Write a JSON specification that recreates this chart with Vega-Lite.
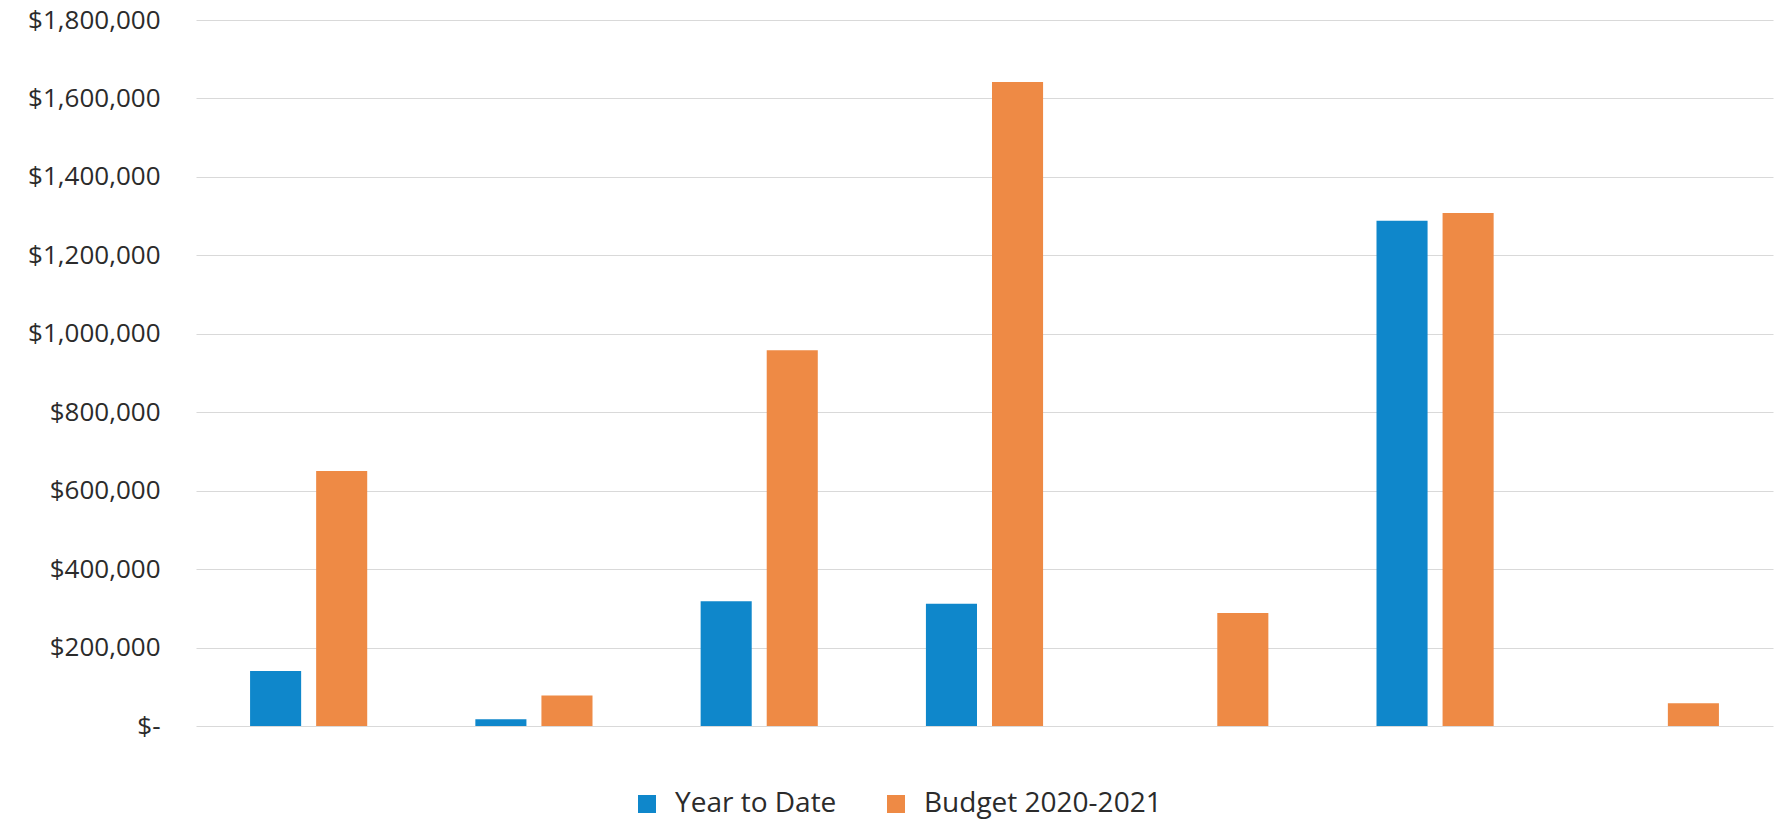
{
  "$schema": "https://vega.github.io/schema/vega-lite/v6.json",
  "width": 1577,
  "height": 706,
  "autosize": {"type": "none"},
  "padding": {"left": 196, "top": 20, "right": 3, "bottom": 94},
  "background": "white",
  "config": {
    "view": {"stroke": null},
    "font": "Open Sans"
  },
  "data": {
    "values": [
      {"cat": "C1", "series": "Year to Date", "amount": 140000},
      {"cat": "C1", "series": "Budget 2020-2021", "amount": 650000},
      {"cat": "C2", "series": "Year to Date", "amount": 17000},
      {"cat": "C2", "series": "Budget 2020-2021", "amount": 78000},
      {"cat": "C3", "series": "Year to Date", "amount": 318000},
      {"cat": "C3", "series": "Budget 2020-2021", "amount": 958000},
      {"cat": "C4", "series": "Year to Date", "amount": 312000},
      {"cat": "C4", "series": "Budget 2020-2021", "amount": 1642000},
      {"cat": "C5", "series": "Budget 2020-2021", "amount": 288000},
      {"cat": "C6", "series": "Year to Date", "amount": 1288000},
      {"cat": "C6", "series": "Budget 2020-2021", "amount": 1308000},
      {"cat": "C7", "series": "Budget 2020-2021", "amount": 58000}
    ]
  },
  "mark": {"type": "bar"},
  "encoding": {
    "x": {
      "field": "cat",
      "type": "nominal",
      "sort": ["C1", "C2", "C3", "C4", "C5", "C6", "C7"],
      "scale": {"paddingInner": 0.48, "paddingOuter": 0.24},
      "axis": null
    },
    "xOffset": {
      "field": "series",
      "type": "nominal",
      "sort": ["Year to Date", "Budget 2020-2021"],
      "scale": {"domain": ["Year to Date", "Budget 2020-2021"], "paddingInner": 0.227, "paddingOuter": 0}
    },
    "y": {
      "field": "amount",
      "type": "quantitative",
      "scale": {"domain": [0, 1800000], "nice": false},
      "axis": {
        "title": null,
        "values": [0, 200000, 400000, 600000, 800000, 1000000, 1200000, 1400000, 1600000, 1800000],
        "labelExpr": "datum.value === 0 ? '$-\u00a0\u00a0\u00a0\u00a0\u00a0' : '$' + format(datum.value, ',')",
        "labelFontSize": 26,
        "labelColor": "#2b2b2b",
        "labelPadding": 36,
        "labelLimit": 0,
        "ticks": false,
        "domain": false,
        "grid": true,
        "gridColor": "#d9d9d9",
        "gridWidth": 1.2
      }
    },
    "color": {
      "field": "series",
      "type": "nominal",
      "sort": ["Year to Date", "Budget 2020-2021"],
      "scale": {"domain": ["Year to Date", "Budget 2020-2021"], "range": ["#0f87cb", "#ee8a45"]},
      "legend": {
        "title": null,
        "orient": "none",
        "direction": "horizontal",
        "legendX": 437,
        "legendY": 770,
        "symbolType": "square",
        "symbolSize": 324,
        "symbolStrokeWidth": 0,
        "symbolOpacity": 1,
        "labelFontSize": 28,
        "labelColor": "#2b2b2b",
        "labelOffset": 14,
        "labelLimit": 0,
        "columnPadding": 45
      }
    }
  }
}
